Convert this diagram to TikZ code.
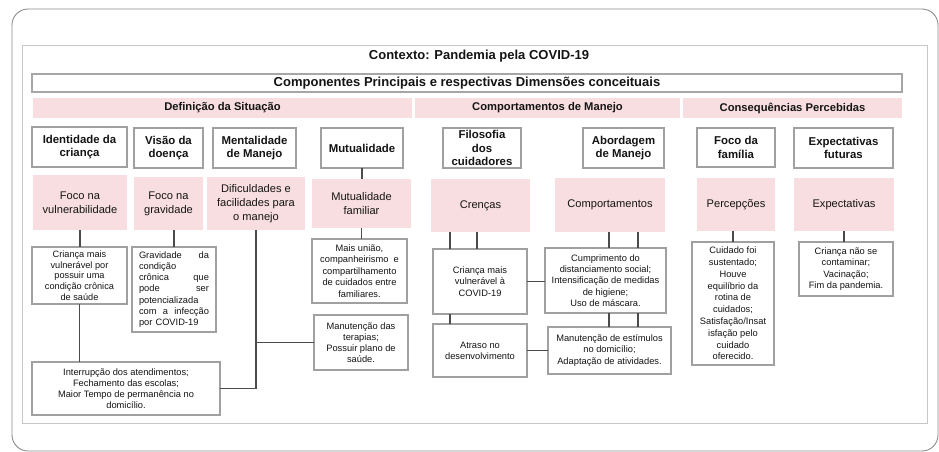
\documentclass[tikz,border=0pt]{standalone}
\usepackage{fontspec}
\setmainfont{Liberation Sans}
\usetikzlibrary{calc}
\definecolor{pinkfill}{RGB}{248,222,224}
\definecolor{boxline}{RGB}{160,160,160}
\definecolor{conn}{RGB}{75,75,75}
\definecolor{txt}{RGB}{20,20,20}
\newcommand\bx[7]{\node[#6, minimum width={(#4)-(#2)}, minimum height={(#5)-(#3)}] (#1) at ({((#2)+(#4))/2},{((#3)+(#5))/2}) {#7};}
\begin{document}
\begin{tikzpicture}[x=1pt,y=-1pt,
  every node/.style={inner sep=0pt, outer sep=0pt, text=txt, align=center},
  titlebox/.style={draw=boxline, line width=1.1pt, fill=white, font=\fontsize{11.4}{13.5}\selectfont\bfseries},
  pinkbox/.style={fill=pinkfill, font=\fontsize{11.1}{13.8}\selectfont},
  itembox/.style={draw=boxline, line width=1.1pt, fill=white, font=\fontsize{9.3}{11.2}\selectfont},
  band/.style={fill=pinkfill, font=\fontsize{11.2}{13}\selectfont\bfseries},
  link/.style={draw=conn, line width=1.4pt}
]
\useasboundingbox (0,0) rectangle (939,451);
\draw[draw=black!45, line width=0.9pt, rounded corners=16pt] (12,9) rectangle (938,451);
\draw[draw=black!22, line width=1pt] (22,45) rectangle (927,423);

\node[font=\fontsize{13}{15}\selectfont\bfseries] (ctx) at (479,56) {Contexto: Pandemia pela COVID-19};
\bx{comp}{32}{74}{902}{92}{draw=black!35, line width=1.6pt, font=\fontsize{13}{15}\selectfont\bfseries}{Componentes Principais e respectivas Dimensões conceituais}

\bx{defs}{33}{98}{412}{118}{band}{Definição da Situação}
\bx{comps}{415}{98}{680}{118}{band}{Comportamentos de Manejo}
\bx{cons}{683}{98}{902}{118}{band}{Consequências Percebidas}

\bx{id}{32}{127}{127}{167}{titlebox}{Identidade da\\criança}
\bx{vis}{134}{128}{203}{168}{titlebox}{Visão da\\doença}
\bx{men}{213}{128}{296}{168}{titlebox}{Mentalidade\\de Manejo}
\bx{mut}{321}{128}{403}{168}{titlebox}{Mutualidade}
\bx{fil}{443}{128}{521}{168}{titlebox}{Filosofia\\dos\\cuidadores}
\bx{abo}{583}{128}{664}{168}{titlebox}{Abordagem\\de Manejo}
\bx{foc}{697}{128}{775}{167}{titlebox}{Foco da\\família}
\bx{exf}{794}{128}{893}{168}{titlebox}{Expectativas\\futuras}

\bx{fvu}{33}{175}{127}{230}{pinkbox}{Foco na\\vulnerabilidade}
\bx{fgr}{134}{177}{203}{230}{pinkbox}{Foco na\\gravidade}
\bx{dif}{207}{177}{305}{230}{pinkbox}{Dificuldades e\\facilidades para\\o manejo}
\bx{muf}{312}{179}{411}{228}{pinkbox}{Mutualidade\\familiar}
\bx{cre}{431}{179}{530}{232}{pinkbox}{Crenças}
\bx{cpt}{555}{178}{665}{232}{pinkbox}{Comportamentos}
\bx{per}{697}{178}{775}{231}{pinkbox}{Percepções}
\bx{exp}{794}{178}{894}{231}{pinkbox}{Expectativas}

\bx{cv1}{32}{247}{127}{304}{itembox, font=\fontsize{9.2}{10.7}\selectfont}{Criança mais\\vulnerável por\\possuir uma\\condição crônica\\de saúde}
\node[itembox, text width=70pt, align=left, minimum width=84, minimum height=85] (gra) at (174,289.5) {Gravidade\hfill da\\condição\\crônica\hfill que\\pode\hfill ser\\potencializada\\com\hfill a\hfill infecção\\por COVID-19};
\bx{intr}{32}{362}{220}{415}{itembox}{Interrupção dos atendimentos;\\Fechamento das escolas;\\Maior Tempo de permanência no\\domicílio.}
\bx{mun}{312}{239}{407}{303}{itembox, font=\fontsize{9.3}{11.6}\selectfont}{Mais união,\\companheirismo~ e\\compartilhamento\\de cuidados entre\\familiares.}
\bx{mter}{314}{315}{408}{370}{itembox}{Manutenção das\\terapias;\\Possuir plano de\\saúde.}
\bx{crv}{433}{249}{527}{314}{itembox}{Criança mais\\vulnerável à\\COVID-19}
\bx{atr}{433}{324}{527}{377}{itembox}{Atraso no\\desenvolvimento}
\bx{cump}{545}{248}{666}{313}{itembox}{Cumprimento do\\distanciamento social;\\Intensificação de medidas\\de higiene;\\Uso de máscara.}
\bx{mest}{548}{327}{671}{374}{itembox}{Manutenção de estímulos\\no domicílio;\\Adaptação de atividades.}
\bx{cui}{692}{242}{774}{365}{itembox, font=\fontsize{9.3}{11.8}\selectfont}{Cuidado foi\\sustentado;\\Houve\\equilíbrio da\\rotina de\\cuidados;\\Satisfação/Insat\\isfação pelo\\cuidado\\oferecido.}
\bx{cns}{799}{242}{893}{296}{itembox}{Criança não se\\contaminar;\\Vacinação;\\Fim da pandemia.}

\coordinate (c1) at ($(crv.north west)+(17,0)$);
\coordinate (c2) at ($(crv.north west)+(44,0)$);
\coordinate (d1) at ($(cump.north west)+(64,0)$);
\coordinate (d2) at ($(cump.north west)+(93,0)$);

\draw[link] (mut.south) -- (mut.south |- muf.north);
\draw[link] (fvu.south) -- (fvu.south |- cv1.north);
\draw[link] (gra.north) -- (gra.north |- fgr.south);
\draw[link] (dif.south) -- (dif.south |- intr.east) -- (intr.east);
\draw[link] (dif.south |- mter.west) -- (mter.west);
\draw[link] (cv1.south) -- (cv1.south |- intr.north);
\draw[link] (muf.south) -- (muf.south |- mun.north);
\draw[link] (c1 |- cre.south) -- (c1);
\draw[link] (c2 |- cre.south) -- (c2);
\draw[link] (crv.south -| c1) -- (atr.north -| c1);
\draw[link] (crv.east) -- (crv.east -| cump.west);
\draw[link] (atr.east) -- (atr.east -| mest.west);
\draw[link] (cpt.south -| d1) -- (d1);
\draw[link] (cpt.south -| d2) -- (d2);
\draw[link] (cump.south -| d1) -- (mest.north -| d1);
\draw[link] (cump.south -| d2) -- (mest.north -| d2);
\draw[link] (per.south -| cui.north) -- (cui.north);
\draw[link] (exp.south) -- (exp.south |- cns.north);
\end{tikzpicture}
\end{document}
